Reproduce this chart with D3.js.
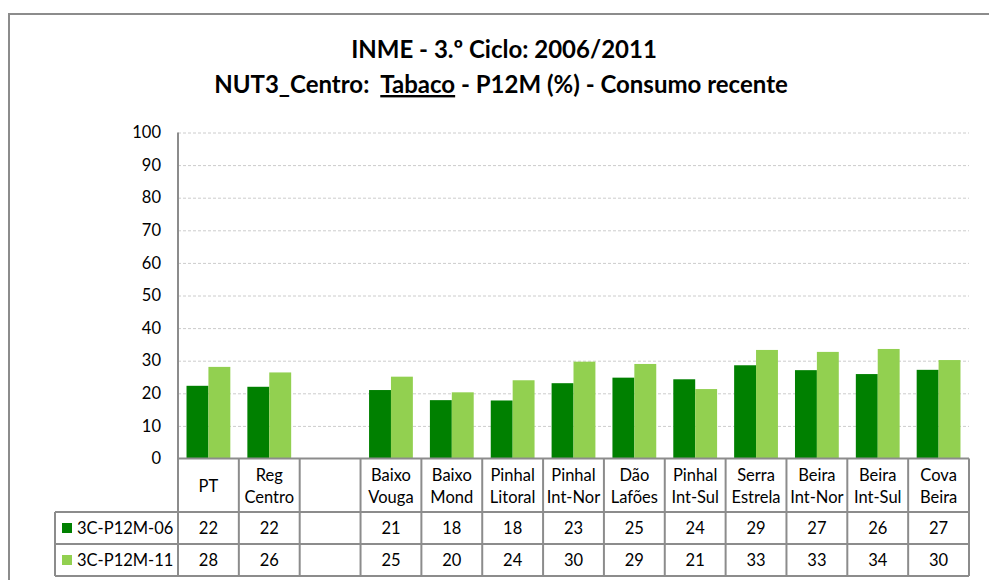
<!DOCTYPE html>
<html>
<head>
<meta charset="utf-8">
<script src="https://cdn.jsdelivr.net/npm/d3@7"></script>
<style>
  body { margin: 0; background: #fff; }
  svg { display: block; font-family: Lato, "Open Sans", sans-serif; }
</style>
</head>
<body>
<svg id="chart" width="989" height="580"></svg>
<script>
// categories (empty one is the spacer column)
var categories = ['PT', 'Reg\nCentro', '', 'Baixo\nVouga', 'Baixo\nMond', 'Pinhal\nLitoral',
  'Pinhal\nInt-Nor', 'Dão\nLafões', 'Pinhal\nInt-Sul', 'Serra\nEstrela', 'Beira\nInt-Nor',
  'Beira\nInt-Sul', 'Cova\nBeira'];
var seriesNames = ['3C-P12M-06', '3C-P12M-11'];
var values06 = [22.3, 22.0, null, 21.0, 17.9, 17.8, 23.1, 24.8, 24.3, 28.6, 27.1, 25.9, 27.2];
var values11 = [28.1, 26.4, null, 25.1, 20.3, 24.0, 29.7, 29.0, 21.3, 33.3, 32.7, 33.6, 30.2];
var yTicks = [0, 10, 20, 30, 40, 50, 60, 70, 80, 90, 100];
var colors = ['#008000', '#92d050'];

var svg = d3.select('#chart');
var plotLeft = 178, plotRight = 969, plotTop = 132.5, plotBottom = 458.5;
var tableLeft = 55, headerBottom = 512, row1Bottom = 544, row2Bottom = 576;
var grey = '#8c8c8c';
var fontSize = 16.5;

// outer frame
svg.append('path')
  .attr('d', 'M9,580 V14 H989')
  .attr('fill', 'none')
  .attr('stroke', grey)
  .attr('stroke-width', 2);

// title
var title = svg.append('text')
  .attr('text-anchor', 'middle')
  .attr('font-weight', 'bold')
  .attr('font-size', 24)
  .attr('fill', '#000');
title.append('tspan').attr('x', 504).attr('y', 58).text('INME - 3.º Ciclo: 2006/2011');
var t2 = title.append('tspan').attr('x', 501).attr('y', 93);
t2.append('tspan').text('NUT3_Centro:\u00a0\u00a0');
t2.append('tspan').attr('text-decoration', 'underline').text('Tabaco');
t2.append('tspan').text('\u00a0- P12M (%) - Consumo recente');

var x = d3.scaleBand()
  .domain(d3.range(categories.length))
  .range([plotLeft, plotRight])
  .paddingInner(0.28)
  .paddingOuter(0.14);

var xSub = d3.scaleBand()
  .domain([0, 1])
  .range([0, x.bandwidth()]);

var y = d3.scaleLinear()
  .domain([0, 100])
  .range([plotBottom, plotTop]);

// gridlines
svg.append('g')
  .selectAll('line')
  .data(yTicks.filter(function(d) { return d > 0; }))
  .enter().append('line')
  .attr('x1', plotLeft)
  .attr('x2', plotRight)
  .attr('y1', function(d) { return y(d) + 0.5; })
  .attr('y2', function(d) { return y(d) + 0.5; })
  .attr('stroke', '#cccccc')
  .attr('stroke-dasharray', '3,2');

// y axis
var yAxis = svg.append('g')
  .attr('transform', 'translate(' + plotLeft + ',0)')
  .call(d3.axisLeft(y).tickValues(yTicks).tickSize(0).tickPadding(17));
yAxis.select('.domain').remove();
yAxis.selectAll('text')
  .attr('font-size', fontSize)
  .attr('font-family', 'Lato, "Open Sans", sans-serif')
  .attr('fill', '#000');
svg.append('line')
  .attr('x1', plotLeft).attr('x2', plotLeft)
  .attr('y1', plotTop).attr('y2', headerBottom)
  .attr('stroke', grey).attr('stroke-width', 2);

// bars
var series = [values06, values11];
var groups = svg.append('g').selectAll('g.serie')
  .data(series)
  .enter().append('g')
  .attr('class', 'serie')
  .attr('fill', function(d, i) { return colors[i]; });

groups.each(function(vals, si) {
  d3.select(this).selectAll('rect')
    .data(vals.map(function(v, i) { return {i: i, v: v}; }).filter(function(d) { return d.v != null; }))
    .enter().append('rect')
    .attr('x', function(d) { return x(d.i) + xSub(si); })
    .attr('y', function(d) { return y(d.v); })
    .attr('width', xSub.bandwidth())
    .attr('height', function(d) { return y(0) - y(d.v); });
});

// data table
var step = x.step();
var table = svg.append('g');
var colEdges = categories.map(function(c, i) { return plotLeft + i * step; })
  .concat([plotLeft + categories.length * step]);

// horizontal lines
[[plotLeft, plotBottom], [tableLeft, headerBottom], [tableLeft, row1Bottom], [tableLeft, row2Bottom]].forEach(function(r) {
  table.append('line')
    .attr('x1', r[0]).attr('x2', plotRight)
    .attr('y1', r[1]).attr('y2', r[1])
    .attr('stroke', grey).attr('stroke-width', 2);
});
// vertical lines
colEdges.forEach(function(cx) {
  table.append('line')
    .attr('x1', cx).attr('x2', cx)
    .attr('y1', plotBottom).attr('y2', row2Bottom)
    .attr('stroke', grey).attr('stroke-width', 2);
});
table.append('line')
  .attr('x1', tableLeft).attr('x2', tableLeft)
  .attr('y1', headerBottom).attr('y2', row2Bottom)
  .attr('stroke', grey).attr('stroke-width', 2);

// category labels
table.selectAll('text.cat')
  .data(categories)
  .enter().append('text')
  .attr('class', 'cat')
  .attr('text-anchor', 'middle')
  .attr('font-size', fontSize)
  .each(function(d, i) {
    var lines = d.split('\n');
    var cy = (plotBottom + headerBottom) / 2;
    var el = d3.select(this);
    lines.forEach(function(line, k) {
      el.append('tspan')
        .attr('x', x(i) + x.bandwidth() / 2)
        .attr('y', cy + 6.5 + (k - (lines.length - 1) / 2) * 22.5)
        .text(line);
    });
  });

// value rows + legend
var rowCenters = [(headerBottom + row1Bottom) / 2, (row1Bottom + row2Bottom) / 2];
series.forEach(function(vals, si) {
  table.append('g').selectAll('text')
    .data(vals)
    .enter().append('text')
    .attr('x', function(d, i) { return x(i) + x.bandwidth() / 2; })
    .attr('y', rowCenters[si] + 6)
    .attr('text-anchor', 'middle')
    .attr('font-size', fontSize)
    .text(function(d) { return d == null ? '' : Math.round(d); });

  table.append('rect')
    .attr('x', 62).attr('y', rowCenters[si] - 5)
    .attr('width', 10).attr('height', 10)
    .attr('fill', colors[si]);
  table.append('text')
    .attr('x', 77).attr('y', rowCenters[si] + 6)
    .attr('font-size', fontSize)
    .text(seriesNames[si]);
});
</script>
</body>
</html>
